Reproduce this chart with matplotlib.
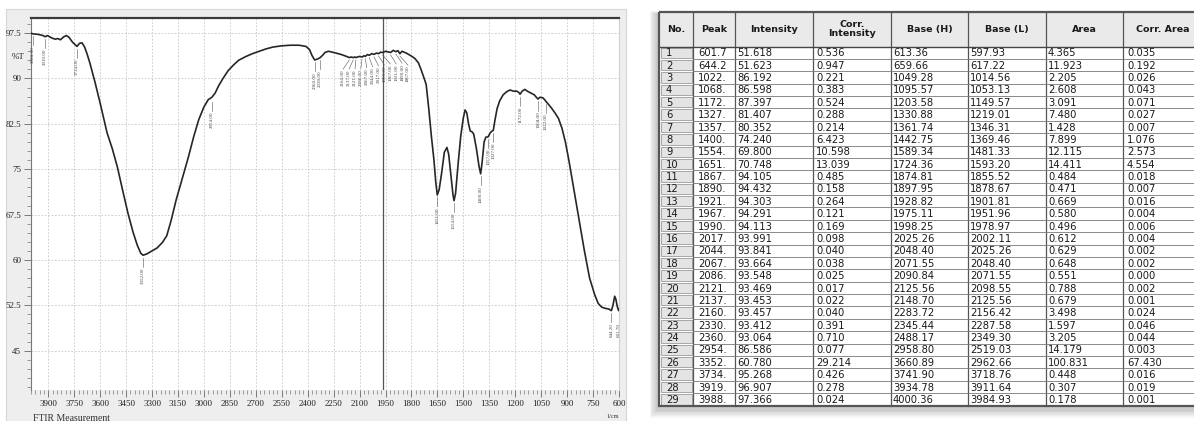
import numpy as np
import matplotlib.pyplot as plt
from matplotlib.patches import Rectangle
from matplotlib.ticker import MultipleLocator

# spectrum (wavenumber 1/cm, %T)
wn = [4000, 3988, 3960, 3930, 3919, 3905, 3880, 3860, 3845, 3830, 3810, 3795, 3780, 3760, 3745,
      3734, 3720, 3705, 3690, 3675, 3660, 3645, 3630, 3600, 3560, 3530, 3500, 3470, 3440, 3410,
      3385, 3365, 3352, 3330, 3300, 3270, 3240, 3215, 3190, 3160, 3120, 3090, 3060, 3030, 3000,
      2975, 2954, 2935, 2915, 2890, 2860, 2830, 2800, 2760, 2720, 2680, 2640, 2600, 2550, 2500,
      2450, 2410, 2390, 2375, 2360, 2345, 2330, 2315, 2300, 2280, 2250, 2210, 2180, 2160, 2148,
      2137, 2128, 2121, 2100, 2086, 2075, 2067, 2055, 2044, 2030, 2017, 2002, 1990, 1978, 1967,
      1950, 1921, 1905, 1890, 1878, 1867, 1855, 1830, 1800, 1780, 1760, 1745, 1730, 1715, 1700,
      1685, 1670, 1660, 1651, 1640, 1625, 1610, 1595, 1585, 1572, 1560, 1554, 1545, 1530, 1515,
      1500, 1490, 1480, 1470, 1460, 1450, 1440, 1425, 1410, 1400, 1392, 1380, 1370, 1357, 1345,
      1335, 1327, 1318, 1305, 1290, 1270, 1250, 1230, 1210, 1190, 1180, 1172, 1160, 1145, 1130,
      1110, 1090, 1075, 1068, 1058, 1040, 1030, 1022, 1010, 990, 970, 950, 930, 910, 890,
      860, 830, 800, 770, 740, 720, 700, 680, 660, 644, 635, 625, 618, 610, 602, 600]
tr = [97.5, 97.37, 97.3, 97.1, 96.9, 97.1, 96.7, 96.5, 96.6, 96.4, 96.9, 97.1, 96.8, 96.0, 95.6,
      95.3, 95.8, 95.9, 95.2, 94.0, 92.6, 91.0, 89.4, 85.9, 81.0, 78.4, 75.3, 71.5, 67.8, 64.6,
      62.4, 61.1, 60.78, 61.0, 61.5, 62.0, 62.9, 64.0, 66.5, 70.0, 74.0, 77.0, 80.3, 83.2, 85.3,
      86.5, 86.9, 87.6, 88.8, 90.0, 91.3, 92.2, 93.0, 93.6, 94.1, 94.5, 94.9, 95.2, 95.4, 95.5,
      95.5, 95.3, 94.8, 93.8, 93.06, 93.2, 93.41, 93.8, 94.3, 94.5, 94.3, 94.0, 93.7, 93.46, 93.55,
      93.45, 93.55, 93.47, 93.65, 93.55, 93.75, 93.66, 93.95, 93.84, 94.1, 93.99, 94.2, 94.11, 94.35, 94.29,
      94.5, 94.3, 94.65, 94.43, 94.6, 94.1, 94.5, 94.2, 93.7, 93.3, 92.6, 91.5, 90.3, 89.0, 85.0,
      80.5, 76.5, 73.0, 70.75, 71.6, 74.5, 77.8, 78.6, 77.5, 74.0, 70.8, 69.8, 71.0, 76.0, 80.5,
      83.5, 84.8, 84.3, 82.5, 81.3, 81.2, 80.8, 78.5, 75.6, 74.24, 76.0, 79.5, 80.3, 80.35, 81.0,
      81.3, 81.41, 83.0, 85.0, 86.3, 87.3, 87.8, 88.1, 87.9, 87.9, 87.7, 87.4, 87.9, 88.2, 87.9,
      87.6, 87.3, 86.8, 86.6, 86.9, 86.8, 86.5, 86.19, 85.8, 85.1, 84.3, 83.4, 81.8, 79.5, 76.5,
      71.5, 66.5, 61.5, 57.0, 54.2, 52.8, 52.2, 52.0, 51.9, 51.62, 52.5, 54.0, 53.5, 52.3, 51.62, 51.9]

# peak table
peak = [601.7, 644.2, 1022, 1068, 1172, 1327, 1357, 1400, 1554, 1651, 1867, 1890, 1921, 1967, 1990,
        2017, 2044, 2067, 2086, 2121, 2137, 2160, 2330, 2360, 2954, 3352, 3734, 3919, 3988]
intensity = [51.618, 51.623, 86.192, 86.598, 87.397, 81.407, 80.352, 74.240, 69.800, 70.748, 94.105,
             94.432, 94.303, 94.291, 94.113, 93.991, 93.841, 93.664, 93.548, 93.469, 93.453, 93.457,
             93.412, 93.064, 86.586, 60.780, 95.268, 96.907, 97.366]
corr_int = [0.536, 0.947, 0.221, 0.383, 0.524, 0.288, 0.214, 6.423, 10.598, 13.039, 0.485, 0.158,
            0.264, 0.121, 0.169, 0.098, 0.040, 0.038, 0.025, 0.017, 0.022, 0.040, 0.391, 0.710,
            0.077, 29.214, 0.426, 0.278, 0.024]
base_h = [613.36, 659.66, 1049.28, 1095.57, 1203.58, 1330.88, 1361.74, 1442.75, 1589.34, 1724.36,
          1874.81, 1897.95, 1928.82, 1975.11, 1998.25, 2025.26, 2048.40, 2071.55, 2090.84, 2125.56,
          2148.70, 2283.72, 2345.44, 2488.17, 2958.80, 3660.89, 3741.90, 3934.78, 4000.36]
base_l = [597.93, 617.22, 1014.56, 1053.13, 1149.57, 1219.01, 1346.31, 1369.46, 1481.33, 1593.20,
          1855.52, 1878.67, 1901.81, 1951.96, 1978.97, 2002.11, 2025.26, 2048.40, 2071.55, 2098.55,
          2125.56, 2156.42, 2287.58, 2349.30, 2519.03, 2962.66, 3718.76, 3911.64, 3984.93]
area = [4.365, 11.923, 2.205, 2.608, 3.091, 7.480, 1.428, 7.899, 12.115, 14.411, 0.484, 0.471,
        0.669, 0.580, 0.496, 0.612, 0.629, 0.648, 0.551, 0.788, 0.679, 3.498, 1.597, 3.205,
        14.179, 100.831, 0.448, 0.307, 0.178]
corr_area = [0.035, 0.192, 0.026, 0.043, 0.071, 0.027, 0.007, 1.076, 2.573, 4.554, 0.018, 0.007,
             0.016, 0.004, 0.006, 0.004, 0.002, 0.002, 0.000, 0.002, 0.001, 0.024, 0.046, 0.044,
             0.003, 67.430, 0.016, 0.019, 0.001]
headers = ['No.', 'Peak', 'Intensity', 'Corr.\nIntensity', 'Base (H)', 'Base (L)', 'Area', 'Corr. Area']

xticks = [3900, 3750, 3600, 3450, 3300, 3150, 3000, 2850, 2700, 2550, 2400, 2250, 2100, 1950,
          1800, 1650, 1500, 1350, 1200, 1050, 900, 750, 600]
yticks = [45, 52.5, 60, 67.5, 75, 82.5, 90, 97.5]
ylabels = ['45', '52.5', '60', '67.5', '75', '82.5', '90', '97.5']

W, H = 1194, 421
fig = plt.figure(figsize=(W / 100, H / 100), dpi=100)

# background layer in pixel coordinates
bg = fig.add_axes([0, 0, 1, 1], zorder=0)
bg.set_xlim(0, W)
bg.set_ylim(H, 0)
bg.axis('off')
bg.add_patch(Rectangle((6, 9), 620, 420, fc='#eeeeee', ec='#d6d6d6', lw=0.8))

# spectrum
serif = 'Liberation Serif'
ax = fig.add_axes([31 / W, 1 - 390 / H, (619 - 31) / W, (390 - 18) / H], zorder=2)
ax.set_facecolor('white')
ax.plot(wn, tr, color='#262626', lw=1.2, zorder=3)
ax.set_xlim(4000, 600)
ax.set_ylim(38.5, 100)
ax.set_xticks(xticks)
ax.set_xticklabels([str(t) for t in xticks], fontfamily=serif, fontsize=6.5)
ax.set_yticks(yticks)
ax.set_yticklabels(ylabels, fontfamily=serif, fontsize=6.5)
ax.xaxis.set_minor_locator(MultipleLocator(25))
ax.yaxis.set_minor_locator(MultipleLocator(1.5))
ax.tick_params(which='major', length=5, width=0.6, color='#666', labelcolor='#222', pad=2)
ax.tick_params(which='minor', length=3, width=0.5, color='#777')
ax.grid(True, which='major', ls=(0, (2, 2)), color='#c6c6c6', lw=0.6)
ax.spines['top'].set_color('#3a3a3a')
ax.spines['top'].set_linewidth(1.6)
ax.spines['left'].set_color('#777')
ax.spines['right'].set_color('#d0d0d0')
ax.spines['bottom'].set_visible(False)
ax.axvline(1965, color='#555', lw=0.9, zorder=2)

# peak labels
cluster = [p for p in peak if 1850 < p < 2200]
cluster.sort(reverse=True)
cl_x = dict(zip(cluster, np.linspace(2195, 1820, len(cluster))))
for p, t in zip(peak, intensity):
    lx = cl_x.get(p, p)
    ax.plot([p, lx], [t - 0.4, t - 1.9], color='#555', lw=0.4, zorder=3)
    ax.text(lx, t - 2.0, f'{p:.2f}', rotation=90, ha='center', va='top',
            fontsize=3.6, fontfamily=serif, color='#444', zorder=3)

fig.text(12 / W, 1 - 57 / H, '%T', fontfamily=serif, fontsize=6.5, color='#222', va='center')
fig.text(33 / W, 1 - 414 / H, 'FTIR Measurement', fontfamily=serif, fontsize=7, color='#333', va='top')
fig.text(606 / W, 1 - 416 / H, '1/cm', fontfamily=serif, fontsize=4.5, color='#333', va='center')

# table
col_edges = [659, 693, 735, 813, 891, 968, 1046, 1123, 1215]
top, head_bot, row_h = 12, 46.5, 12.38
n = len(peak)
bottom = head_bot + n * row_h

for i in range(6):
    bg.add_patch(Rectangle((col_edges[0] - 3 - i * 1.3, top + 2 - i * 0.6),
                           col_edges[-1] - col_edges[0], bottom - top + 3 + i * 2.0,
                           fc='#000000', alpha=0.035, lw=0, zorder=1))
bg.add_patch(Rectangle((col_edges[0], top), col_edges[-1] - col_edges[0], bottom - top,
                       fc='white', ec='none', zorder=2))
bg.add_patch(Rectangle((col_edges[0], top), col_edges[-1] - col_edges[0], head_bot - top,
                       fc='#eaeaea', ec='none', zorder=2))
for r in range(n):
    y0 = head_bot + r * row_h
    bg.add_patch(Rectangle((col_edges[0] + 1.5, y0 + 1), col_edges[1] - col_edges[0] - 3, row_h - 2,
                           fc='#e4e4e4', ec='#9a9a9a', lw=0.6, zorder=3))
# grid lines
for x in col_edges[1:-1]:
    bg.plot([x, x], [top, bottom], color='#555', lw=0.9, zorder=4)
for r in range(1, n):
    y = head_bot + r * row_h
    bg.plot([col_edges[1], col_edges[-1]], [y, y], color='#777', lw=0.6, zorder=4)
bg.plot([col_edges[0], col_edges[-1]], [head_bot, head_bot], color='#444', lw=1.0, zorder=4)
bg.add_patch(Rectangle((col_edges[0], top), col_edges[-1] - col_edges[0], bottom - top,
                       fc='none', ec='#555', lw=1.6, zorder=5))

for j, h in enumerate(headers):
    cx = (col_edges[j] + col_edges[j + 1]) / 2
    if j == len(headers) - 1:
        cx = 1163
    bg.text(cx, (top + head_bot) / 2, h, ha='center', va='center', fontsize=6.8,
            fontweight='bold', color='#1a1a1a', linespacing=1.0, zorder=6)

cols = [[str(i + 1) for i in range(n)],
        [f'{p:.2f}'[:5] for p in peak],
        [f'{v:.3f}' for v in intensity],
        [f'{v:.3f}' for v in corr_int],
        [f'{v:.2f}' for v in base_h],
        [f'{v:.2f}' for v in base_l],
        [f'{v:.3f}' for v in area],
        [f'{v:.3f}' for v in corr_area]]
pads = [7, 5, 2.5, 3, 2, 2, 2, 4]
for j, col in enumerate(cols):
    for r, s in enumerate(col):
        bg.text(col_edges[j] + pads[j], head_bot + (r + 0.55) * row_h, s, ha='left', va='center',
                fontsize=7.2, color='#1a1a1a', zorder=6)

fig.savefig('out.png', dpi=100)
